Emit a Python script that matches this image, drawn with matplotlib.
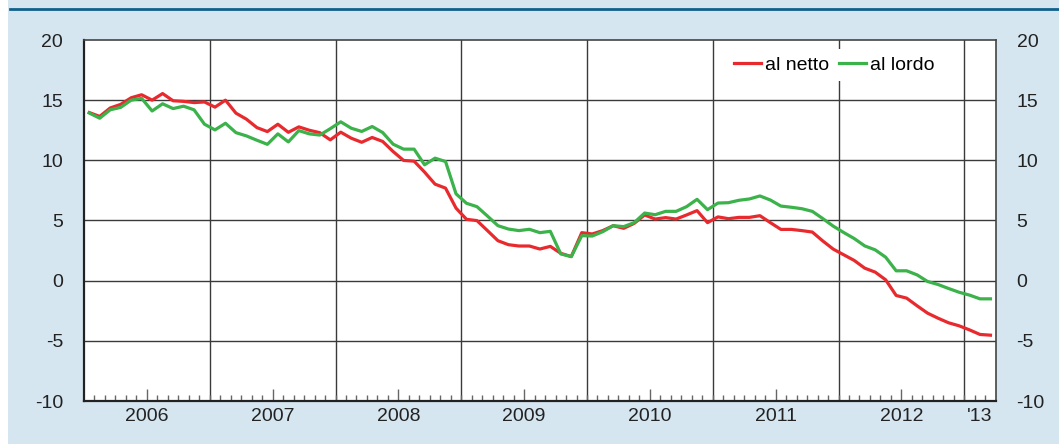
import numpy as np
import matplotlib
matplotlib.use('Agg')
import matplotlib.pyplot as plt
from matplotlib.patches import Rectangle
from matplotlib.lines import Line2D

plt.rcParams['font.family'] = ['Liberation Sans', 'DejaVu Sans']
plt.rcParams['axes.unicode_minus'] = False

# monthly series, Jan 2006 - Mar 2013
al_netto = [
    13.97, 13.65, 14.35, 14.65, 15.2, 15.45, 15.0, 15.55, 14.95, 14.9, 14.8, 14.85,   # 2006
    14.42, 15.0, 13.92, 13.42, 12.72, 12.39, 13.0, 12.33, 12.78, 12.5, 12.3, 11.7,    # 2007
    12.34, 11.84, 11.5, 11.9, 11.57, 10.73, 9.99, 9.93, 9.02, 8.02, 7.69, 6.03,       # 2008
    5.1, 4.99, 4.16, 3.32, 2.99, 2.88, 2.88, 2.63, 2.85, 2.27, 2.0, 3.99,             # 2009
    3.88, 4.16, 4.57, 4.35, 4.76, 5.46, 5.12, 5.24, 5.12, 5.46, 5.82, 4.82,           # 2010
    5.3, 5.15, 5.26, 5.26, 5.4, 4.82, 4.26, 4.26, 4.16, 4.04, 3.3, 2.62,              # 2011
    2.15, 1.68, 1.04, 0.71, 0.07, -1.23, -1.45, -2.09, -2.7, -3.12, -3.5, -3.75,      # 2012
    -4.09, -4.47, -4.53,                                                              # 2013
]
al_lordo = [
    13.93, 13.5, 14.2, 14.4, 15.0, 15.15, 14.1, 14.7, 14.3, 14.5, 14.2, 13.0,         # 2006
    12.53, 13.08, 12.3, 12.03, 11.67, 11.33, 12.2, 11.53, 12.47, 12.2, 12.1, 12.63,   # 2007
    13.2, 12.67, 12.4, 12.81, 12.31, 11.34, 10.93, 10.93, 9.63, 10.18, 9.9, 7.22,     # 2008
    6.43, 6.15, 5.37, 4.57, 4.29, 4.16, 4.27, 3.99, 4.1, 2.22, 2.0, 3.74,             # 2009
    3.71, 4.07, 4.57, 4.49, 4.82, 5.62, 5.48, 5.76, 5.76, 6.15, 6.76, 5.9,            # 2010
    6.45, 6.48, 6.68, 6.79, 7.04, 6.7, 6.2, 6.1, 5.98, 5.76, 5.16, 4.53,              # 2011
    4.0, 3.5, 2.89, 2.56, 1.95, 0.82, 0.82, 0.48, -0.07, -0.32, -0.65, -0.96,         # 2012
    -1.2, -1.51, -1.51,                                                               # 2013
]
year_labels = ['2006', '2007', '2008', '2009', '2010', '2011', '2012', "'13"]
y_ticks = [-10, -5, 0, 5, 10, 15, 20]

n_months = len(al_netto)
x = np.arange(n_months) + 0.5

bg = '#d5e6f0'
fig = plt.figure(figsize=(10.59, 4.44), dpi=100, facecolor='white')
fig.patches.append(Rectangle((8 / 1059, 0), 1 - 8 / 1059, 1, transform=fig.transFigure,
                             facecolor=bg, edgecolor='none', zorder=-10))
fig.lines.append(Line2D([10 / 1059, 1], [1 - 9 / 444, 1 - 9 / 444], transform=fig.transFigure,
                        color='#10608c', lw=2.0))

ax = fig.add_axes([84 / 1059, 1 - 401 / 444, (995.7 - 84) / 1059, 361 / 444])
ax.set_facecolor('white')

ax.plot(x, al_netto, color='#e82a2e', lw=2.3, label='al netto', zorder=3)
ax.plot(x, al_lordo, color='#3bb24a', lw=2.3, label='al lordo', zorder=3)

ax.set_xlim(0, 87)
ax.set_ylim(-10, 20)

# grid: horizontal at y ticks, vertical at year boundaries
for v in y_ticks[1:-1]:
    ax.axhline(v, color='#3a3a3a', lw=1.0, zorder=1)
for b in range(12, n_months, 12):
    ax.axvline(b, color='#3a3a3a', lw=1.0, zorder=1)

ax.set_yticks(y_ticks)
ax.tick_params(axis='y', which='both', length=0, labelsize=14, pad=15,
               labelright=True, right=False, labelcolor='#222222')

# x labels at year centres (last one centred on the visible months)
label_pos = [6 + 12 * i for i in range(7)] + [84 + (n_months - 84) / 2]
ax.set_xticks(label_pos)
ax.set_xticklabels(year_labels)
ax.tick_params(axis='x', which='major', length=0, labelsize=14, pad=5, labelcolor='#222222')
ax.set_xticks(np.arange(1, 87), minor=True)
ax.tick_params(axis='x', which='minor', direction='in', length=4, width=1, color='#666666')

# longer mid-year ticks
sec = ax.secondary_xaxis('bottom')
sec.set_xticks([6 + 12 * i for i in range(7)])
sec.tick_params(direction='in', length=9, width=1, color='#666666', labelbottom=False)
sec.spines['bottom'].set_visible(False)

for side in ['left', 'bottom']:
    ax.spines[side].set_linewidth(1.6)
    ax.spines[side].set_color('#222222')
for side in ['top', 'right']:
    ax.spines[side].set_linewidth(1.2)
    ax.spines[side].set_color('#444444')

leg = ax.legend(loc='center', bbox_to_anchor=(0.823, 0.931), ncol=2, frameon=True,
                fancybox=False, facecolor='white', edgecolor='none', framealpha=1,
                fontsize=14, handlelength=1.4, handletextpad=0.2, columnspacing=0.5,
                borderpad=0.35, borderaxespad=0)
leg.set_zorder(5)

fig.savefig('out.png', dpi=100, facecolor=fig.get_facecolor())
